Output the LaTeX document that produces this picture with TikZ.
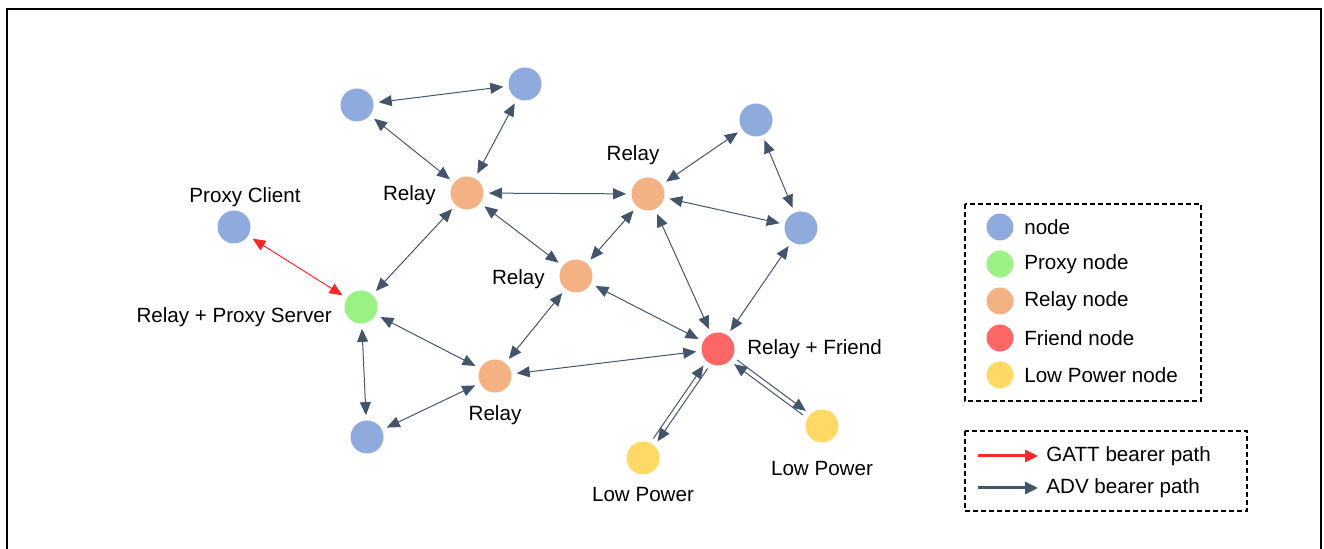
\documentclass[tikz,border=0pt]{standalone}
\usepackage{fontspec}
\setmainfont{Liberation Sans}
\usepackage{tikz}
\usetikzlibrary{arrows.meta,positioning}

\definecolor{nodeblue}{RGB}{143,170,220}
\definecolor{proxygreen}{RGB}{153,242,131}
\definecolor{relayorange}{RGB}{244,177,131}
\definecolor{friendred}{RGB}{255,102,102}
\definecolor{lowyellow}{RGB}{255,217,102}
\definecolor{advgray}{RGB}{68,84,106}
\definecolor{gattred}{RGB}{255,40,40}

\tikzset{
dot/.style={circle,minimum size=16.5pt,inner sep=0pt},
legdot/.style={circle,minimum size=13.5pt,inner sep=0pt},
lbl/.style={font=\fontsize{10.3}{12}\selectfont,inner sep=1pt},
link/.style={{Triangle[length=6.5pt,width=5.5pt]}-{Triangle[length=6.5pt,width=5.5pt]},draw=advgray,line width=0.5pt,shorten >=2.5pt,shorten <=2.5pt},
onelink/.style={-{Triangle[length=6.5pt,width=5.5pt]},draw=advgray,line width=0.5pt,shorten >=2.5pt,shorten <=2.5pt},
legbox/.style={draw,line width=0.75pt,dash pattern=on 2.5pt off 1.5pt},
legarrow/.style={-{Triangle[length=6.5pt,width=6pt]},line width=1.5pt}
}

\begin{document}
\begin{tikzpicture}[x=0.5pt,y=-0.5pt]
\useasboundingbox (0,0) rectangle (1324,549);
%Frame
\draw[line width=1.3pt] (7,560) -- (7,9) -- (1321,9) -- (1321,560);

%Nodes
\node[dot,fill=nodeblue] (n1) at (357,105) {};
\node[dot,fill=nodeblue] (n2) at (525,84) {};
\node[dot,fill=relayorange] (r1) at (467,193) {};
\node[dot,fill=nodeblue] (pc) at (234,227) {};
\node[dot,fill=proxygreen] (ps) at (361,307) {};
\node[dot,fill=relayorange] (r2) at (576,276) {};
\node[dot,fill=relayorange] (r3) at (648,194) {};
\node[dot,fill=nodeblue] (n3) at (756,120) {};
\node[dot,fill=nodeblue] (n4) at (801,228) {};
\node[dot,fill=relayorange] (r4) at (495,376) {};
\node[dot,fill=friendred] (f) at (718,349) {};
\node[dot,fill=nodeblue] (n5) at (367,437) {};
\node[dot,fill=lowyellow] (lp1) at (643,458) {};
\node[dot,fill=lowyellow] (lp2) at (822,426) {};

%Labels
\node[lbl,left=6pt of r1,yshift=-1pt] (r1l) {Relay};
\node[lbl,above=0.5pt of pc,xshift=5.5pt] (pcl) {Proxy Client};
\node[lbl,left=5pt of ps,yshift=-5pt] (psl) {Relay + Proxy Server};
\node[lbl,left=6pt of r2,yshift=-1.5pt] (r2l) {Relay};
\node[lbl,above=5pt of r3,xshift=-7.5pt] (r3l) {Relay};
\node[lbl,below=5pt of r4] (r4l) {Relay};
\node[lbl,right=5pt of f] (fl) {Relay + Friend};
\node[lbl,below=5pt of lp1] (lp1l) {Low Power};
\node[lbl,below=8pt of lp2] (lp2l) {Low Power};

%ADV links
\foreach \a/\b in {n1/n2,n1/r1,n2/r1,r1/r3,r1/ps,r1/r2,r3/r2,r3/n3,r3/n4,n3/n4,r3/f,n4/f,r2/r4,r2/f,ps/r4,ps/n5,n5/r4,r4/f}
\draw[link] (\a) -- (\b);

%GATT link
\draw[link,draw=gattred,color=gattred] (pc) -- (ps);

%Friendship
\draw[onelink,transform canvas={shift={(1.04pt,-0.71pt)}}] (f) -- (lp1);
\draw[onelink,transform canvas={shift={(-1.04pt,0.71pt)}}] (lp1) -- (f);
\draw[onelink,transform canvas={shift={(0.75pt,1pt)}}] (f) -- (lp2);
\draw[onelink,transform canvas={shift={(-0.75pt,-1pt)}}] (lp2) -- (f);

%Legend
\draw[legbox] (965,204) rectangle (1201,401);
\node[legdot,fill=nodeblue] (lg1) at (1000,227) {};
\node[legdot,fill=proxygreen] (lg2) at (1000,264) {};
\node[legdot,fill=relayorange] (lg3) at (1000,301) {};
\node[legdot,fill=friendred] (lg4) at (1000,338) {};
\node[legdot,fill=lowyellow] (lg5) at (1000,375) {};
\node[lbl,right=4pt of lg1] (lg1t) {node};
\node[lbl,right=4pt of lg2] (lg2t) {Proxy node};
\node[lbl,right=4pt of lg3] (lg3t) {Relay node};
\node[lbl,right=4pt of lg4] (lg4t) {Friend node};
\node[lbl,right=4pt of lg5] (lg5t) {Low Power node};

\draw[legbox] (965,431) rectangle (1247,511);
\coordinate (ga) at (978,456);
\coordinate (gb) at (1038,456);
\coordinate (aa) at (978,488);
\coordinate (ab) at (1038,488);
\draw[legarrow,gattred] (ga) -- (gb);
\draw[legarrow,advgray] (aa) -- (ab);
\node[lbl,right=3pt of gb] (gbt) {GATT bearer path};
\node[lbl,right=3pt of ab] (abt) {ADV bearer path};

\end{tikzpicture}
\end{document}
